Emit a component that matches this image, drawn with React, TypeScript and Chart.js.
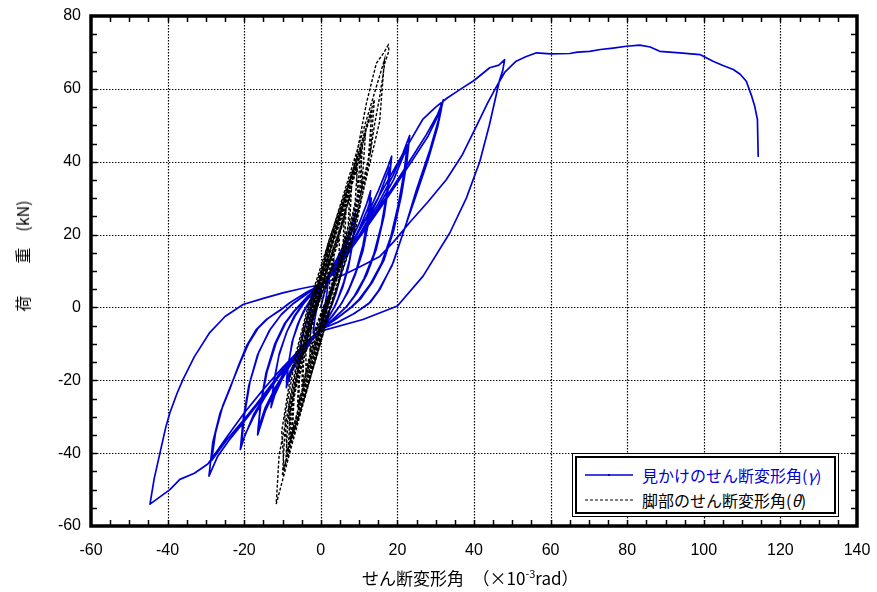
import React, { useEffect, useRef } from "react";
import { Chart, registerables } from "chart.js";
Chart.register(...registerables);

type P = [number, number];

const X_MIN = -60, X_MAX = 140, Y_MIN = -60, Y_MAX = 80;
const xTicks = [-60, -40, -20, 0, 20, 40, 60, 80, 100, 120, 140];
const yTicks = [-60, -40, -20, 0, 20, 40, 60, 80];
const MINOR_STEP = 5;

const BLUE = "#0000d8";
const LABEL_BLUE = "見かけのせん断変形角";
const LABEL_BLACK = "脚部のせん断変形角";

// ---- apparent shear deformation angle (gamma), blue ----
const blueCycle1: P[] = [[0,0],[1,4.5],[2,8],[1.6,4],[1,0],[0.3,-3],[0,-5],[-1,-5.5],[-2,-7],[-1.6,-3.5],[-1,0],[-0.2,3],[0,5]];
const blueCycle2: P[] = [[1,7],[2,9],[3,11],[4,13],[3.6,9],[3,5],[2,1.5],[1.5,0],[0.5,-3],[0,-5.5],[-1,-7],[-2,-8.5],[-3,-10],[-4,-12],[-3.6,-8],[-3,-4],[-2,-1],[-1.5,0.5],[-0.5,3.5],[0,5.5]];
const blueCycle2b: P[] = [[1,7],[2.2,9],[3.2,10.7],[4,12],[3.5,8],[2.8,4],[1.8,0.5],[0.6,-3],[0,-5.5],[-1,-6.8],[-2.2,-8.4],[-3.2,-9.8],[-4,-11],[-3.5,-7],[-2.8,-3.5],[-1.6,0],[-0.5,3.5],[0,5.5]];
const blueCycle3: P[] = [[1.5,8],[3,10.5],[4.5,14],[5.7,16.5],[6.5,19],[6,14],[5,8],[4,4],[3,1],[1.5,-2.5],[0,-5.8],[-1.5,-7.5],[-3,-9.5],[-4.5,-12.5],[-5.5,-15],[-6,-17],[-5.5,-12],[-4.5,-6.5],[-3.5,-3],[-2.5,0],[-1.2,3],[0,5.8]];
const blueCycle4: P[] = [[2,8.5],[4,12],[6,16.5],[7.8,21.5],[9,26],[8.5,20],[7.5,13],[6,7],[4.5,2.5],[3.5,0],[1.5,-3.5],[0,-6],[-2,-8],[-4,-11],[-6,-14.5],[-8,-18.5],[-9,-22],[-8.5,-16],[-7.5,-9.5],[-6,-4.5],[-4.5,-1],[-2.5,2.5],[0,6]];
const blueCycle4b: P[] = [[2,8.5],[4,11.5],[6,15.5],[8,20.5],[9,24],[8.4,18],[7.2,11],[5.7,5.5],[4,1],[2,-2.8],[0,-6],[-2,-7.8],[-4,-10.5],[-6,-13.8],[-8,-17.5],[-9,-20.5],[-8.4,-15],[-7.2,-8.5],[-5.5,-3.5],[-3.8,0],[-2,2.8],[0,6]];
const blueCycle5: P[] = [[2.5,9],[5,13],[7.5,17.5],[10,23],[12,28.5],[13,32],[12.3,25],[11,17],[9.2,10],[7.3,5],[5.5,1.2],[3,-2.5],[0,-6],[-2.5,-8.5],[-5,-11.5],[-7.5,-15],[-10,-19.5],[-12,-24],[-13,-27.5],[-12.3,-21],[-11,-13.5],[-9,-7],[-7,-2.5],[-5,0.5],[-2.5,3.5],[0,6]];
const blueCycle5b: P[] = [[2.5,8.8],[5,12.5],[7.5,16.5],[10,21.5],[12.2,27],[13.2,30],[12.4,23],[11,15.5],[9,9],[7,4],[5,0.5],[2.5,-3],[0,-6],[-2.5,-8.3],[-5,-11],[-7.5,-14.5],[-10,-18.5],[-12,-23],[-12.9,-26],[-12.2,-20],[-10.8,-12.5],[-8.8,-6.5],[-6.5,-2],[-4.5,1],[-2.2,3.8],[0,6]];
const blueCycle6: P[] = [[3,9.5],[6,14],[9,19],[12,25],[15,32],[17.5,38.5],[18.5,41.5],[17.8,34],[16.5,25],[14.5,16],[12,9],[9.5,4],[7,0.5],[3.5,-3],[0,-6],[-3,-9],[-6,-13],[-9,-17.5],[-12,-23],[-14.5,-28.5],[-16.5,-35],[-15.8,-27],[-14.3,-18],[-12,-10],[-9.5,-4.5],[-7,-1],[-3.5,3],[0,6]];
const blueCycle6b: P[] = [[3,9.3],[6,13.5],[9,18],[12,23.5],[15,30],[18,38.5],[17.2,31],[15.8,22.5],[13.8,14.5],[11.3,8],[8.8,3.2],[6.5,0],[3.2,-3.2],[0,-6],[-3,-8.8],[-6,-12.5],[-9,-17],[-12,-22.2],[-14.5,-27.5],[-16.4,-33.5],[-15.6,-26],[-14,-17.5],[-11.7,-9.8],[-9.2,-4.3],[-6.7,-0.8],[-3.3,3],[0,6]];
const blueCycle7: P[] = [[3.5,9.8],[7,15],[11,21.5],[15,28.5],[19,36.5],[21.5,42.5],[23.2,47.2],[22.5,40],[21,30.5],[19,21],[16.5,13],[13.5,7],[10.5,2.5],[8,0],[4,-3.2],[0,-6],[-3.5,-9.3],[-7,-13.5],[-11,-19],[-14.5,-24.5],[-17.5,-30],[-19.8,-35],[-21,-39],[-20.3,-31],[-18.8,-21.5],[-16.5,-13],[-13.5,-6.5],[-10.5,-2.2],[-7.5,0.8],[-3.5,3.8],[0,6]];
const blueCycle7b: P[] = [[3.5,9.6],[7,14.6],[11,20.8],[15,27.5],[19,35],[22.5,44],[21.8,37.5],[20.3,28.5],[18.3,19.5],[15.8,12],[12.8,6.2],[9.8,2],[7.5,-0.3],[3.8,-3.3],[0,-6],[-3.5,-9.1],[-7,-13.2],[-11,-18.5],[-14.5,-24],[-17.5,-29.3],[-20.7,-37.5],[-20,-30],[-18.5,-20.5],[-16.2,-12.3],[-13.2,-6],[-10.2,-1.8],[-7.3,1],[-3.4,3.9],[0,6]];
const blueCycle8: P[] = [[4,10],[8,16.5],[12,22.5],[16,28.5],[20,35],[24,41.5],[27.6,47.5],[30.5,53],[32,57],[31,52.5],[28.5,43.3],[25,32.4],[22.4,23.3],[18.9,12.3],[15.4,4.9],[13,1.5],[9,-1.5],[4.5,-4],[0,-6],[-4,-10],[-8,-15.2],[-12.5,-21],[-16.8,-27],[-20.5,-32],[-24,-36.5],[-27,-41],[-29.2,-46.3],[-28.2,-37],[-26.3,-29],[-23.8,-22.5],[-21.5,-16],[-19.4,-10.6],[-16.8,-6],[-14.2,-3.3],[-11,-1],[-8.1,1.3],[-4,4],[0.2,6.3]];
const blueCycle8b: P[] = [[4,10],[8,16.2],[12,22],[16,28],[20,34.2],[24,40.5],[28,47],[31.5,54.5],[30.5,49.5],[28,40.5],[24.8,30.5],[22,22],[18.6,11.5],[15,4.5],[12.5,1],[8.5,-1.8],[4.2,-4.2],[0,-6],[-4,-9.8],[-8,-15],[-12.5,-20.6],[-16.8,-26.5],[-20.5,-31.3],[-24.5,-36.3],[-28.5,-42],[-27.5,-34.5],[-25.6,-27],[-23.3,-21],[-21,-15],[-18.9,-10],[-16.3,-5.6],[-13.8,-3],[-10.6,-0.8],[-7.8,1.5],[-3.8,4.1],[0.2,6.3]];
const blueCycle9: P[] = [[4,10.5],[8,17.5],[12,24.5],[16,32],[20,39.5],[23.5,46],[26.6,51.6],[30,55],[33,57.5],[36.3,59.8],[40,62.3],[44.1,65.8],[46.5,66.5],[48,68],[47.5,65],[46.7,62.5],[44,50],[41.5,40],[38,30],[33.7,20.5],[26.7,8.6],[20,0.4],[11,-3.3],[0,-6.5],[-5,-11],[-10,-16.5],[-15,-22.5],[-20,-29],[-24.5,-35.5],[-27.5,-40],[-29.5,-43],[-33,-45.5],[-36.8,-47.2],[-39.4,-50],[-42,-52],[-44.6,-54],[-43.5,-47],[-42,-40],[-40.5,-33],[-39.4,-28.9],[-37.5,-23.5],[-36,-19.8],[-33,-13.5],[-29,-6.9],[-25,-2.5],[-20.3,0.8],[-15,2.5],[-9.9,4],[-5,5.2],[0.2,6.3]];
const blueFinal: P[] = [[5,8.5],[10,11],[15.4,14],[19,18],[23.2,23.3],[28,29],[32.8,35.1],[37,42],[40.6,49.7],[43.5,56],[45.9,60.7],[48,64.5],[51,67.6],[53.5,68.8],[56.3,69.9],[60,69.6],[65,69.7],[67,70.1],[70.2,70.3],[73,70.8],[76.3,71.2],[79.8,71.7],[83.3,72],[86,71.5],[88.5,70.3],[93.7,69.9],[99,69.4],[102.4,67.6],[105,66.4],[107.7,65.3],[109.5,64],[111.1,62.1],[112.5,58],[113.3,55.2],[114,51.6],[114.2,41.5]];

// ---- footing shear deformation angle (theta), black dashed ----
const blackCycle1: P[] = [[0,0],[0.66,2.8],[1.43,5.6],[2.2,8],[2.38,6],[2.11,3.2],[0.56,0],[-0.26,-2.45],[-1.17,-4.9],[-1.8,-7],[-2.02,-5.25],[-1.89,-2.8],[-0.86,0]];
const blackCycle2: P[] = [[0.59,4.55],[2.21,9.1],[3.4,13],[3.46,9.75],[2.77,5.2],[0.71,0],[-0.49,-4.2],[-1.82,-8.4],[-2.8,-12],[-2.92,-9],[-2.44,-4.8],[-1.06,0]];
const blackCycle2b: P[] = [[0.42,4.2],[2.07,8.4],[3.18,12],[3.26,9],[2.65,4.8],[0.68,0],[-0.44,-3.85],[-1.7,-7.7],[-2.61,-11],[-2.75,-8.25],[-2.34,-4.4],[-1.02,0]];
const blackCycle3: P[] = [[0.95,6.65],[3.16,13.3],[4.86,19],[4.77,14.25],[3.57,7.6],[0.88,0],[-0.72,-5.95],[-2.52,-11.9],[-3.87,-17],[-3.88,-12.75],[-3.03,-6.8],[-1.27,0]];
const blackCycle4: P[] = [[1.33,9.1],[4.25,18.2],[6.54,26],[6.29,19.5],[4.5,10.4],[1.08,0],[-0.94,-7.7],[-3.2,-15.4],[-4.92,-22],[-4.83,-16.5],[-3.61,-8.8],[-1.48,0]];
const blackCycle4b: P[] = [[1.08,8.4],[3.94,16.8],[6.06,24],[5.85,18],[4.23,9.6],[1.03,0],[-0.86,-7.2],[-2.99,-14.35],[-4.6,-20.5],[-4.54,-15.4],[-3.43,-8.2],[-1.42,0]];
const blackCycle5: P[] = [[1.68,11.2],[5.19,22.4],[7.98,32],[7.58,24],[5.29,12.8],[1.26,0],[-1.19,-9.6],[-3.95,-19.25],[-6.08,-27.5],[-5.87,-20.6],[-4.24,-11],[-1.72,0]];
const blackCycle5b: P[] = [[1.39,10.5],[4.88,21],[7.5,30],[7.15,22.5],[5.03,12],[1.2,0],[-1.13,-9.1],[-3.74,-18.2],[-5.76,-26],[-5.58,-19.5],[-4.07,-10.4],[-1.65,0]];
const blackCycle6: P[] = [[2.25,14.5],[6.67,29],[10.26,41.5],[9.63,31.1],[6.54,16.6],[1.53,0],[-1.53,-12.25],[-4.97,-24.5],[-7.65,-35],[-7.29,-26.25],[-5.11,-14],[-2.03,0]];
const blackCycle6b: P[] = [[1.85,13.5],[6.2,27],[9.54,38.5],[8.99,28.9],[6.15,15.4],[1.45,0],[-1.48,-11.7],[-4.77,-23.45],[-7.34,-33.5],[-7.01,-25.1],[-4.94,-13.4],[-1.97,0]];
const blackCycle6c: P[] = [[1.2,13],[5.6,27],[9.2,39],[9.8,30],[7.2,16],[2.3,0],[-0.8,-11.5],[-4.2,-24],[-7.9,-35.5],[-8.4,-27],[-6.2,-14.5],[-2.9,0]];
const blackCycle7: P[] = [[2.5,16.5],[7.56,33],[11.63,47.2],[10.87,35.4],[7.3,18.9],[1.7,0],[-1.7,-13.65],[-5.52,-27.3],[-8.49,-39],[-8.04,-29.25],[-5.57,-15.6],[-2.2,0]];
const blackCycle7b: P[] = [[2.16,15.4],[7.06,30.8],[10.86,44],[10.17,33],[6.87,17.6],[1.6,0],[-1.65,-13.1],[-5.32,-26.25],[-8.18,-37.5],[-7.76,-28.1],[-5.4,-15],[-2.14,0]];
const blackCycle7c: P[] = [[1.5,15],[6.3,30],[10.4,43],[10.8,33],[8.2,18],[2.5,0],[-1,-13],[-4.6,-26],[-8.8,-39.5],[-9.4,-30],[-7,-16],[-3.2,0]];
const blackCycle8: P[] = [[3.12,19.95],[9.09,39.9],[13.98,57],[12.98,42.75],[8.59,22.8],[1.8,0],[-2.11,-16.2],[-6.51,-32.4],[-10.02,-46.3],[-9.42,-34.7],[-6.41,-18.5],[-2.5,0]];
const blackCycle8b: P[] = [[2.76,19.1],[8.7,38.15],[13.38,54.5],[12.44,40.9],[8.26,21.8],[1.8,0],[-1.84,-14.7],[-5.93,-29.4],[-9.12,-42],[-8.61,-31.5],[-5.92,-16.8],[-2.32,0]];
const blackCycle8c: P[] = [[2,18],[7.8,36],[13.2,53],[12.5,40],[9.2,22],[2.6,0],[-1.2,-14],[-5.2,-28],[-9.6,-44],[-10.2,-34],[-7.8,-18],[-3.4,0]];
const blackCycle9: P[] = [[3.83,23.8],[10.8,47.6],[16.62,68],[15.36,51],[10.04,27.2],[1.8,0],[-2.59,-18.9],[-7.57,-37.8],[-11.64,-54],[-10.88,-40.5],[-7.3,-21.6],[-2.9,0]];
const blackFinal: P[] = [[1.5,12],[5.5,27],[9,40],[11.9,56],[14.5,67],[16.5,70],[17.6,72],[17.8,70.5],[16.7,67],[15.4,58],[14,50],[12.8,41.5]];

const blueSeries: P[] = [
  ...blueCycle1, ...blueCycle2, ...blueCycle2b, ...blueCycle3, ...blueCycle4, ...blueCycle4b,
  ...blueCycle5, ...blueCycle5b, ...blueCycle6, ...blueCycle6b, ...blueCycle7, ...blueCycle7b,
  ...blueCycle8, ...blueCycle8b, ...blueCycle9, ...blueFinal,
];
const blackSeries: P[] = [
  ...blackCycle1, ...blackCycle2, ...blackCycle2b, ...blackCycle3, ...blackCycle4, ...blackCycle4b,
  ...blackCycle5, ...blackCycle5b, ...blackCycle6, ...blackCycle6b, ...blackCycle6c,
  ...blackCycle7, ...blackCycle7b, ...blackCycle7c,
  ...blackCycle8, ...blackCycle8b, ...blackCycle8c, ...blackCycle9, ...blackFinal,
];

const framePlugin = {
  id: "frameGrid",
  beforeDatasetsDraw(chart: any) {
    const { ctx, chartArea: a, scales } = chart;
    const xs = scales.x, ys = scales.y;
    ctx.save();
    ctx.strokeStyle = "#000";
    ctx.lineWidth = 1.2;
    ctx.setLineDash([1.4, 1.6]);
    for (const v of xTicks) {
      if (v === X_MIN || v === X_MAX) continue;
      const px = Math.round(xs.getPixelForValue(v)) + 0.5;
      ctx.beginPath(); ctx.moveTo(px, a.top); ctx.lineTo(px, a.bottom); ctx.stroke();
    }
    for (const v of yTicks) {
      if (v === Y_MIN || v === Y_MAX) continue;
      const py = Math.round(ys.getPixelForValue(v)) + 0.5;
      ctx.beginPath(); ctx.moveTo(a.left, py); ctx.lineTo(a.right, py); ctx.stroke();
    }
    ctx.restore();
  },
  afterDatasetsDraw(chart: any) {
    const { ctx, chartArea: a, scales } = chart;
    const xs = scales.x, ys = scales.y;
    ctx.save();
    ctx.strokeStyle = "#000";
    ctx.setLineDash([]);
    ctx.lineWidth = 1.5;
    const L = 6;
    for (let v = X_MIN + MINOR_STEP; v < X_MAX; v += MINOR_STEP) {
      const px = Math.round(xs.getPixelForValue(v)) + 0.5;
      ctx.beginPath(); ctx.moveTo(px, a.top); ctx.lineTo(px, a.top + L); ctx.stroke();
      ctx.beginPath(); ctx.moveTo(px, a.bottom); ctx.lineTo(px, a.bottom - L); ctx.stroke();
    }
    for (let v = Y_MIN + MINOR_STEP; v < Y_MAX; v += MINOR_STEP) {
      const py = Math.round(ys.getPixelForValue(v)) + 0.5;
      ctx.beginPath(); ctx.moveTo(a.left, py); ctx.lineTo(a.left + L, py); ctx.stroke();
      ctx.beginPath(); ctx.moveTo(a.right, py); ctx.lineTo(a.right - L, py); ctx.stroke();
    }
    ctx.lineWidth = 3.5;
    ctx.strokeRect(a.left, a.top, a.right - a.left, a.bottom - a.top);
    ctx.restore();
  },
};

const toXY = (arr: P[]) => arr.map(([x, y]) => ({ x, y }));

const cjk = "'Noto Sans CJK JP', 'Noto Sans', sans-serif";

export default function App() {
  const ref = useRef<HTMLCanvasElement>(null);
  useEffect(() => {
    const tickFont = { family: "'Liberation Sans', Arial, sans-serif", size: 16 };
    const chart = new Chart(ref.current as HTMLCanvasElement, {
      type: "scatter",
      data: {
        datasets: [
          {
            label: LABEL_BLACK,
            data: toXY(blackSeries),
            showLine: true,
            borderColor: "#000",
            borderWidth: 1.4,
            borderDash: [3, 1.8],
            pointRadius: 0,
            tension: 0,
            order: 0,
          },
          {
            label: LABEL_BLUE,
            data: toXY(blueSeries),
            showLine: true,
            borderColor: BLUE,
            borderWidth: 1.7,
            borderJoinStyle: "round",
            borderCapStyle: "round",
            pointRadius: 0,
            tension: 0,
            order: 1,
          },
        ],
      },
      options: {
        responsive: false,
        animation: false,
        events: [],
        layout: { padding: { top: 16, right: 20, left: 0, bottom: 0 } },
        plugins: { legend: { display: false }, tooltip: { enabled: false } },
        scales: {
          x: {
            type: "linear",
            min: X_MIN,
            max: X_MAX,
            afterBuildTicks: (s: any) => { s.ticks = xTicks.map((v) => ({ value: v })); },
            ticks: { font: tickFont, color: "#000", padding: 2, maxRotation: 0 },
            grid: { display: false, drawTicks: true, tickLength: 13 },
            border: { display: false },
            afterFit: (s: any) => { s.height = 66; },
          },
          y: {
            type: "linear",
            min: Y_MIN,
            max: Y_MAX,
            afterBuildTicks: (s: any) => { s.ticks = yTicks.map((v) => ({ value: v })); },
            ticks: { font: tickFont, color: "#000", padding: 0 },
            grid: { display: false, drawTicks: true, tickLength: 10 },
            border: { display: false },
            afterFit: (s: any) => { s.width = 91; },
          },
        },
      } as any,
      plugins: [framePlugin],
    });
    return () => chart.destroy();
  }, []);

  return (
    <div style={{ position: "absolute", left: 0, top: 0, width: 877, height: 592, background: "#fff", overflow: "hidden" }}>
      <canvas ref={ref} width={877} height={592} style={{ display: "block", width: 877, height: 592 }} />
      {/* y axis title */}
      <div
        style={{
          position: "absolute", left: 22, top: 256, transform: "translate(-50%, -50%) rotate(-90deg)",
          whiteSpace: "nowrap", fontFamily: cjk, fontSize: 16, lineHeight: "18px", color: "#000",
        }}
      >
        荷　　重　(kN)
      </div>
      {/* x axis title */}
      <div
        style={{
          position: "absolute", left: 362, top: 578, transform: "translateY(-50%)",
          whiteSpace: "nowrap", fontFamily: cjk, fontSize: 17, lineHeight: "18px", color: "#000",
        }}
      >
        せん断変形角　（×10<sup style={{ fontSize: 11, verticalAlign: "7px", lineHeight: 0 }}>-3</sup>rad）
      </div>
      {/* legend */}
      <div
        style={{
          position: "absolute", left: 572, top: 453, width: 267, height: 64, boxSizing: "border-box",
          border: "1px solid #000", background: "#fff",
        }}
      >
        <div style={{ position: "absolute", left: 2, top: 2, right: 2, bottom: 2, border: "2px solid #000" }} />
      </div>
      <svg style={{ position: "absolute", left: 585, top: 470 }} width={50} height={10}>
        <line x1={0} y1={5} x2={48} y2={5} stroke={BLUE} strokeWidth={1.5} />
        <rect x={23} y={4} width={2} height={2} fill={BLUE} />
      </svg>
      <div
        style={{
          position: "absolute", left: 642, top: 475, transform: "translateY(-50%)", whiteSpace: "nowrap",
          fontFamily: cjk, fontSize: 16, lineHeight: "18px", color: BLUE,
        }}
      >
        {LABEL_BLUE}(<i>γ</i>)
      </div>
      <svg style={{ position: "absolute", left: 585, top: 495 }} width={50} height={10}>
        <line x1={0} y1={5} x2={48} y2={5} stroke="#000" strokeWidth={1.2} strokeDasharray="3 2" />
      </svg>
      <div
        style={{
          position: "absolute", left: 642, top: 500, transform: "translateY(-50%)", whiteSpace: "nowrap",
          fontFamily: cjk, fontSize: 16, lineHeight: "18px", color: "#000",
        }}
      >
        {LABEL_BLACK}(<i>θ</i>)
      </div>
    </div>
  );
}
